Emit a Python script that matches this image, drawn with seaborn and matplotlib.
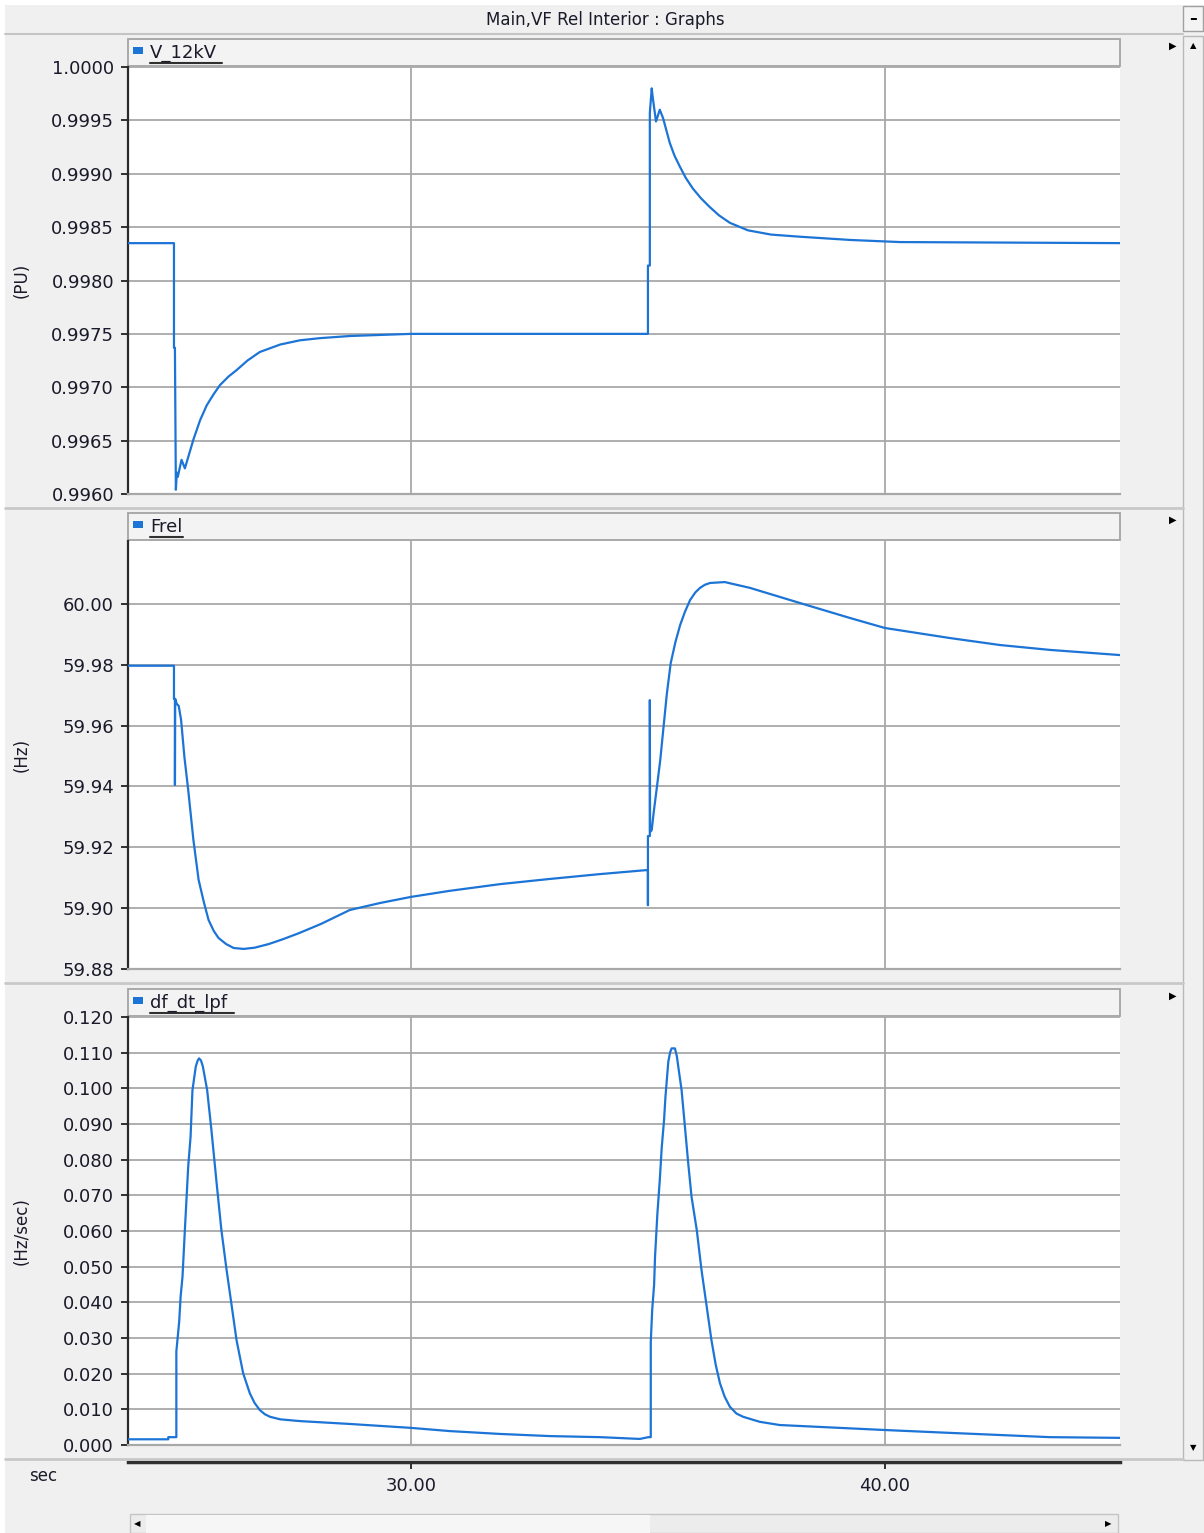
import matplotlib
matplotlib.use("Agg")
import matplotlib.pyplot as plt
import seaborn as sns
import pandas as pd
from matplotlib.patches import Rectangle
from matplotlib.lines import Line2D

# ---------------- data ----------------
window_title = "Main,VF Rel Interior : Graphs"
panel_titles = ["V_12kV", "Frel", "df_dt_lpf"]
y_units = ["(PU)", "(Hz)", "(Hz/sec)"]
x_label = "sec"

x_ticks = [30, 40]
x_ticklabels = ["30.00", "40.00"]

v_ticks = [0.9960, 0.9965, 0.9970, 0.9975, 0.9980, 0.9985, 0.9990, 0.9995, 1.0000]
f_ticks = [59.88, 59.90, 59.92, 59.94, 59.96, 59.98, 60.00]
d_ticks = [0.000, 0.010, 0.020, 0.030, 0.040, 0.050, 0.060, 0.070, 0.080,
           0.090, 0.100, 0.110, 0.120]

v_time = [24.03, 25.00, 25.00, 25.02, 25.04, 25.06, 25.08, 25.16, 25.23, 25.41,
          25.55, 25.69, 25.83, 25.97, 26.15, 26.32, 26.55, 26.81, 27.24, 27.66,
          28.08, 28.71, 29.35, 30.00, 35.00, 35.00, 35.04, 35.04, 35.08, 35.10,
          35.17, 35.25, 35.32, 35.46, 35.56, 35.67, 35.80, 35.95, 36.12, 36.30,
          36.50, 36.73, 37.11, 37.60, 38.21, 39.26, 40.32, 44.96]
v_vals = [0.99835, 0.99835, 0.99737, 0.99737, 0.99604, 0.99620, 0.99616, 0.99632,
          0.99624, 0.99651, 0.99669, 0.99683, 0.99693, 0.99702, 0.99710, 0.99716,
          0.99725, 0.99733, 0.99740, 0.99744, 0.99746, 0.99748, 0.99749, 0.99750,
          0.99750, 0.99814, 0.99814, 0.99957, 0.99980, 0.99972, 0.99949, 0.99960,
          0.99952, 0.99929, 0.99917, 0.99907, 0.99896, 0.99886, 0.99877, 0.99869,
          0.99861, 0.99854, 0.99847, 0.99843, 0.99841, 0.99838, 0.99836, 0.99835]

f_time = [24.03, 25.00, 25.00, 25.02, 25.02, 25.025, 25.06, 25.10, 25.15, 25.22,
          25.30, 25.41, 25.52, 25.63, 25.73, 25.84, 25.94, 26.10, 26.26, 26.47,
          26.70, 27.00, 27.30, 27.64, 28.10, 28.71, 29.35, 30.00, 30.82, 31.88,
          32.93, 33.99, 34.96, 35.00, 35.00, 35.00, 35.04, 35.04, 35.045, 35.08,
          35.12, 35.19, 35.26, 35.33, 35.40, 35.48, 35.58, 35.68, 35.78, 35.89,
          36.00, 36.10, 36.20, 36.31, 36.62, 37.15, 38.21, 39.26, 40.00, 41.37,
          42.43, 43.48, 44.96]
f_vals = [59.9797, 59.9797, 59.9688, 59.9688, 59.9405, 59.9688, 59.9671, 59.9665,
          59.9619, 59.9497, 59.9389, 59.9224, 59.9093, 59.9020, 59.8961, 59.8925,
          59.8902, 59.8882, 59.8869, 59.8866, 59.8870, 59.8882, 59.8898, 59.8918,
          59.8948, 59.8994, 59.9017, 59.9037, 59.9057, 59.9079, 59.9096, 59.9112,
          59.9125, 59.9125, 59.9010, 59.9237, 59.9237, 59.9684, 59.9250, 59.9257,
          59.9313, 59.9399, 59.9487, 59.9597, 59.9706, 59.9805, 59.9875, 59.9931,
          59.9974, 60.0013, 60.0038, 60.0053, 60.0063, 60.0069, 60.0072, 60.0053,
          60.0003, 59.9954, 59.9921, 59.9888, 59.9865, 59.9849, 59.9832]

d_time = [24.03, 24.88, 24.88, 25.05, 25.05, 25.11, 25.14, 25.18, 25.23, 25.30,
          25.35, 25.39, 25.46, 25.50, 25.53, 25.57, 25.61, 25.70, 25.79, 25.90,
          26.00, 26.11, 26.22, 26.32, 26.46, 26.60, 26.70, 26.81, 26.92, 27.03,
          27.24, 27.66, 28.71, 30.00, 30.82, 31.88, 32.93, 33.99, 34.83, 35.01,
          35.06, 35.06, 35.09, 35.13, 35.15, 35.20, 35.25, 35.29, 35.34, 35.37,
          35.43, 35.47, 35.50, 35.57, 35.61, 35.64, 35.71, 35.78, 35.85, 35.92,
          36.03, 36.13, 36.24, 36.34, 36.43, 36.52, 36.62, 36.73, 36.87, 37.01,
          37.36, 37.78, 40.00, 41.37, 42.43, 43.48, 44.96]
d_vals = [0.0016, 0.0016, 0.0022, 0.0022, 0.0262, 0.0346, 0.0416, 0.0472, 0.0603,
          0.0780, 0.0864, 0.0995, 0.1061, 0.1078, 0.1084, 0.1078, 0.1061, 0.0995,
          0.0883, 0.0734, 0.0603, 0.0491, 0.0388, 0.0294, 0.0201, 0.0145, 0.0118,
          0.0098, 0.0086, 0.0079, 0.0072, 0.0067, 0.0059, 0.0048, 0.0039, 0.0031,
          0.0025, 0.0022, 0.0017, 0.0022, 0.0022, 0.0290, 0.0379, 0.0449, 0.0528,
          0.0650, 0.0743, 0.0832, 0.0911, 0.0977, 0.1075, 0.1102, 0.1112, 0.1112,
          0.1090, 0.1061, 0.0995, 0.0893, 0.0790, 0.0696, 0.0603, 0.0491, 0.0388,
          0.0294, 0.0225, 0.0173, 0.0135, 0.0107, 0.0088, 0.0079, 0.0065, 0.0056,
          0.0042, 0.0034, 0.0028, 0.0022, 0.0020]

# ---------------- styling ----------------
sns.set_theme(style="white")
plt.rcParams['font.family'] = ['DejaVu Sans']

BLUE = '#1c74d6'
GRID = '#a8a8a8'
TXT = '#1a1a2a'
BG = '#f0f0f0'

W, H = 1204, 1533
fig = plt.figure(figsize=(W / 100, H / 100), dpi=100)
fig.patch.set_facecolor('white')


def fx(px):
    return px / W


def fy(py):
    return 1 - py / H


def rect(x0, y0, x1, y1, fc, ec='none', lw=0.0, z=0):
    fig.add_artist(Rectangle((fx(x0), fy(y1)), (x1 - x0) / W, (y1 - y0) / H,
                             transform=fig.transFigure, facecolor=fc,
                             edgecolor=ec, linewidth=lw, zorder=z))


def seg(x0, y0, x1, y1, color, lw, z=1):
    fig.add_artist(Line2D([fx(x0), fx(x1)], [fy(y0), fy(y1)],
                          transform=fig.transFigure, color=color,
                          linewidth=lw, zorder=z))


# window background
rect(5, 5, W, H, BG, z=-5)
# title bar
seg(5, 34, 1183, 34, '#c4c4c4', 1.5)
fig.text(fx(605), fy(20), window_title, ha='center', va='center',
         fontsize=12, color=TXT)
# minimise button
rect(1183, 6, 1203, 31, '#f4f4f4', ec='#a0a0a0', lw=1.0)
fig.text(fx(1193), fy(19), '\u2013', ha='center', va='center', fontsize=11,
         color='black', fontweight='bold')
# vertical scrollbar
rect(1183, 36, 1203, 1460, '#f0f0f0', ec='#b8b8b8', lw=1.0)
fig.text(fx(1193), fy(46), '\u25B2', ha='center', va='center', fontsize=6, color='black')
fig.text(fx(1193), fy(1448), '\u25BC', ha='center', va='center', fontsize=6, color='black')

# panel separators
for ysep in (508, 983):
    seg(5, ysep, 1183, ysep, '#c8c8c8', 2.0)
seg(5, 1459, 1183, 1459, '#c8c8c8', 2.0)

panels = [
    dict(t=v_time, v=v_vals, top=67, bot=494, ylim=(0.9960, 1.0000),
         ticks=v_ticks, fmt="{:.4f}", title=panel_titles[0], unit=y_units[0],
         ulen=72),
    dict(t=f_time, v=f_vals, top=541, bot=969, ylim=(59.88, 60.0207),
         ticks=f_ticks, fmt="{:.2f}", title=panel_titles[1], unit=y_units[1],
         ulen=33),
    dict(t=d_time, v=d_vals, top=1017, bot=1445, ylim=(0.0, 0.120),
         ticks=d_ticks, fmt="{:.3f}", title=panel_titles[2], unit=y_units[2],
         ulen=84),
]

XL, XR = 128, 1120
XMIN, XMAX = 24.03, 44.96

for p in panels:
    ax = fig.add_axes([fx(XL), fy(p['bot']), (XR - XL) / W, (p['bot'] - p['top']) / H])
    ax.set_facecolor('white')
    df = pd.DataFrame({'t': p['t'], 'v': p['v']})
    sns.lineplot(data=df, x='t', y='v', ax=ax, estimator=None, sort=False,
                 color=BLUE, linewidth=1.6, zorder=3)
    ax.set_xlim(XMIN, XMAX)
    ax.set_ylim(*p['ylim'])
    ax.set_yticks(p['ticks'])
    ax.set_yticklabels([p['fmt'].format(t) for t in p['ticks']])
    ax.set_xticks(x_ticks)
    ax.set_xticklabels([])
    ax.tick_params(axis='x', length=0)
    ax.tick_params(axis='y', direction='out', left=True, length=5, width=1.4,
                   color='#303030', labelsize=13, labelcolor=TXT, pad=5)
    ax.grid(True, color=GRID, linewidth=1.3, zorder=0)
    ax.set_axisbelow(True)
    ax.set_xlabel('')
    ax.set_ylabel('')
    for s in ('top', 'right'):
        ax.spines[s].set_visible(False)
    ax.spines['left'].set_color('#2a2a2a')
    ax.spines['left'].set_linewidth(1.6)
    ax.spines['bottom'].set_color(GRID)
    ax.spines['bottom'].set_linewidth(1.6)

    # unit label
    fig.text(fx(22), fy((p['top'] + p['bot']) / 2), p['unit'], rotation=90,
             ha='center', va='center', fontsize=12, color=TXT)

    # header bar
    htop = p['top'] - 28
    rect(XL, htop, XR, p['top'] - 1, '#f3f3f3', ec='#a4a4a4', lw=1.3)
    rect(133, htop + 8, 143, htop + 15, BLUE, z=2)
    fig.text(fx(150), fy(htop + 14), p['title'], ha='left', va='center',
             fontsize=13, color=TXT)
    seg(150, htop + 24, 150 + p['ulen'], htop + 24, '#303030', 1.5, z=2)
    # small expand arrow
    fig.text(fx(1173), fy(htop + 7), '\u25B6', ha='center', va='center',
             fontsize=7, color='black')

# bottom time axis
axb = fig.add_axes([fx(XL), fy(1462), (XR - XL) / W, 0.0005])
axb.set_facecolor('none')
axb.set_xlim(XMIN, XMAX)
axb.set_xticks(x_ticks)
axb.set_xticklabels(x_ticklabels)
axb.set_yticks([])
axb.tick_params(axis='x', direction='out', bottom=True, length=5, width=1.4,
                color='#303030', labelsize=13, labelcolor=TXT, pad=6)
for s in ('top', 'right', 'left'):
    axb.spines[s].set_visible(False)
axb.spines['bottom'].set_color('#303030')
axb.spines['bottom'].set_linewidth(2.5)
fig.text(fx(43), fy(1476), x_label, ha='center', va='center', fontsize=12, color=TXT)

# horizontal scrollbar
rect(130, 1514, 1118, 1533, '#ececec', ec='#c4c4c4', lw=1.0)
rect(146, 1515, 650, 1533, '#f6f6f6', z=1)
fig.text(fx(137), fy(1524), '\u25C0', ha='center', va='center', fontsize=6, color='black')
fig.text(fx(1108), fy(1524), '\u25B6', ha='center', va='center', fontsize=6, color='black')

fig.savefig('out.png', dpi=100, facecolor=fig.get_facecolor())
